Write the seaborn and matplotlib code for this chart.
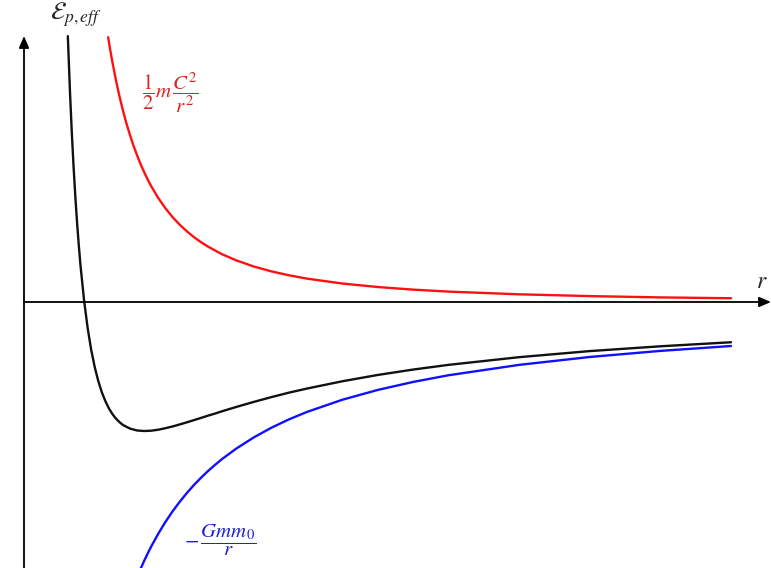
import matplotlib
matplotlib.use("Agg")
import matplotlib.pyplot as plt
import numpy as np
import pandas as pd
import seaborn as sns

# Valeurs (unités arbitraires : r en abscisse, énergie en ordonnée)
r_red = [1.19, 1.22, 1.25, 1.3, 1.35, 1.4, 1.45, 1.5, 1.55, 1.6, 1.65, 1.7, 1.75, 1.8,
         1.9, 2.0, 2.1, 2.2, 2.3, 2.4, 2.5, 2.6, 2.8, 3.0, 3.25, 3.5, 3.75, 4.0, 4.5,
         5.0, 5.5, 6.0, 7.0, 8.0, 9.0, 10.0]
e_red = [2.648, 2.519, 2.400, 2.219, 2.058, 1.913, 1.784, 1.667, 1.561, 1.465, 1.377,
         1.298, 1.224, 1.157, 1.039, 0.938, 0.850, 0.775, 0.709, 0.651, 0.600, 0.555,
         0.478, 0.417, 0.355, 0.306, 0.267, 0.234, 0.185, 0.150, 0.124, 0.104, 0.077,
         0.059, 0.046, 0.0375]

r_blue = [1.65, 1.7, 1.75, 1.8, 1.9, 2.0, 2.1, 2.2, 2.3, 2.4, 2.5, 2.6, 2.7, 2.8, 3.0,
          3.25, 3.5, 3.75, 4.0, 4.5, 5.0, 5.5, 6.0, 7.0, 8.0, 9.0, 10.0]
e_blue = [-2.667, -2.588, -2.514, -2.444, -2.316, -2.2, -2.095, -2.0, -1.913, -1.833,
          -1.76, -1.692, -1.630, -1.571, -1.467, -1.354, -1.257, -1.173, -1.1, -0.978,
          -0.88, -0.8, -0.733, -0.629, -0.55, -0.489, -0.44]

r_black = [0.62, 0.65, 0.675, 0.7, 0.725, 0.75, 0.775, 0.8, 0.85, 0.9, 0.95, 1.0, 1.05,
           1.1, 1.15, 1.2, 1.25, 1.3, 1.35, 1.4, 1.5, 1.6, 1.7, 1.8, 1.9, 2.0, 2.1, 2.2,
           2.3, 2.4, 2.5, 2.6, 2.7, 2.8, 3.0, 3.25, 3.5, 3.75, 4.0, 4.5, 5.0, 5.5, 6.0,
           7.0, 8.0, 9.0, 10.0]
e_black = [2.658, 2.107, 1.711, 1.367, 1.065, 0.800, 0.567, 0.359, 0.014, -0.259,
           -0.477, -0.65, -0.789, -0.901, -0.990, -1.063, -1.12, -1.166, -1.201, -1.230,
           -1.266, -1.285, -1.290, -1.287, -1.277, -1.262, -1.245, -1.225, -1.204,
           -1.182, -1.16, -1.137, -1.116, -1.093, -1.050, -0.999, -0.951, -0.906,
           -0.866, -0.793, -0.73, -0.676, -0.629, -0.552, -0.491, -0.443, -0.4025]

sns.set_style("white")
plt.rcParams["mathtext.fontset"] = "stix"

W, H = 771, 568
fig = plt.figure(figsize=(W / 100, H / 100), dpi=100)
ax = fig.add_axes([0, 0, 1, 1])

sns.lineplot(x=r_red, y=e_red, color="#ff1010", lw=1.7, ax=ax)
sns.lineplot(x=r_blue, y=e_blue, color="#1010ff", lw=1.7, ax=ax)
sns.lineplot(x=r_black, y=e_black, color="#111111", lw=1.7, ax=ax)

ax.set_xlim(-24 / 70.7, (W - 24) / 70.7)
ax.set_ylim((302 - H) / 100, 302 / 100)
ax.axis("off")

# axes avec flèches
arrow = dict(arrowstyle="-|>,head_length=0.7,head_width=0.3", color="black", lw=1.3,
             shrinkA=0, shrinkB=0)
ax.annotate("", xy=(0, 2.66), xytext=(0, (302 - H) / 100), arrowprops=arrow,
            annotation_clip=False)
ax.annotate("", xy=((W - 24) / 70.7, 0), xytext=(0, 0), arrowprops=arrow,
            annotation_clip=False)

def px(x, y):
    return x / W, 1 - y / H

ax.text(*px(76, 15), r"$\mathcal{E}_{p,eff}$", transform=fig.transFigure,
        ha="center", va="center", fontsize=18)
ax.text(*px(762, 281), r"$r$", transform=fig.transFigure,
        ha="center", va="center", fontsize=17)
ax.text(*px(170, 93), r"$\dfrac{1}{2}m\,\dfrac{C^2}{r^2}$", transform=fig.transFigure,
        ha="center", va="center", fontsize=15, color="#dd2222")
ax.text(*px(220, 540), r"$-\,\dfrac{Gmm_0}{r}$", transform=fig.transFigure,
        ha="center", va="center", fontsize=15, color="#2222cc")

fig.savefig("out.png", dpi=100)
